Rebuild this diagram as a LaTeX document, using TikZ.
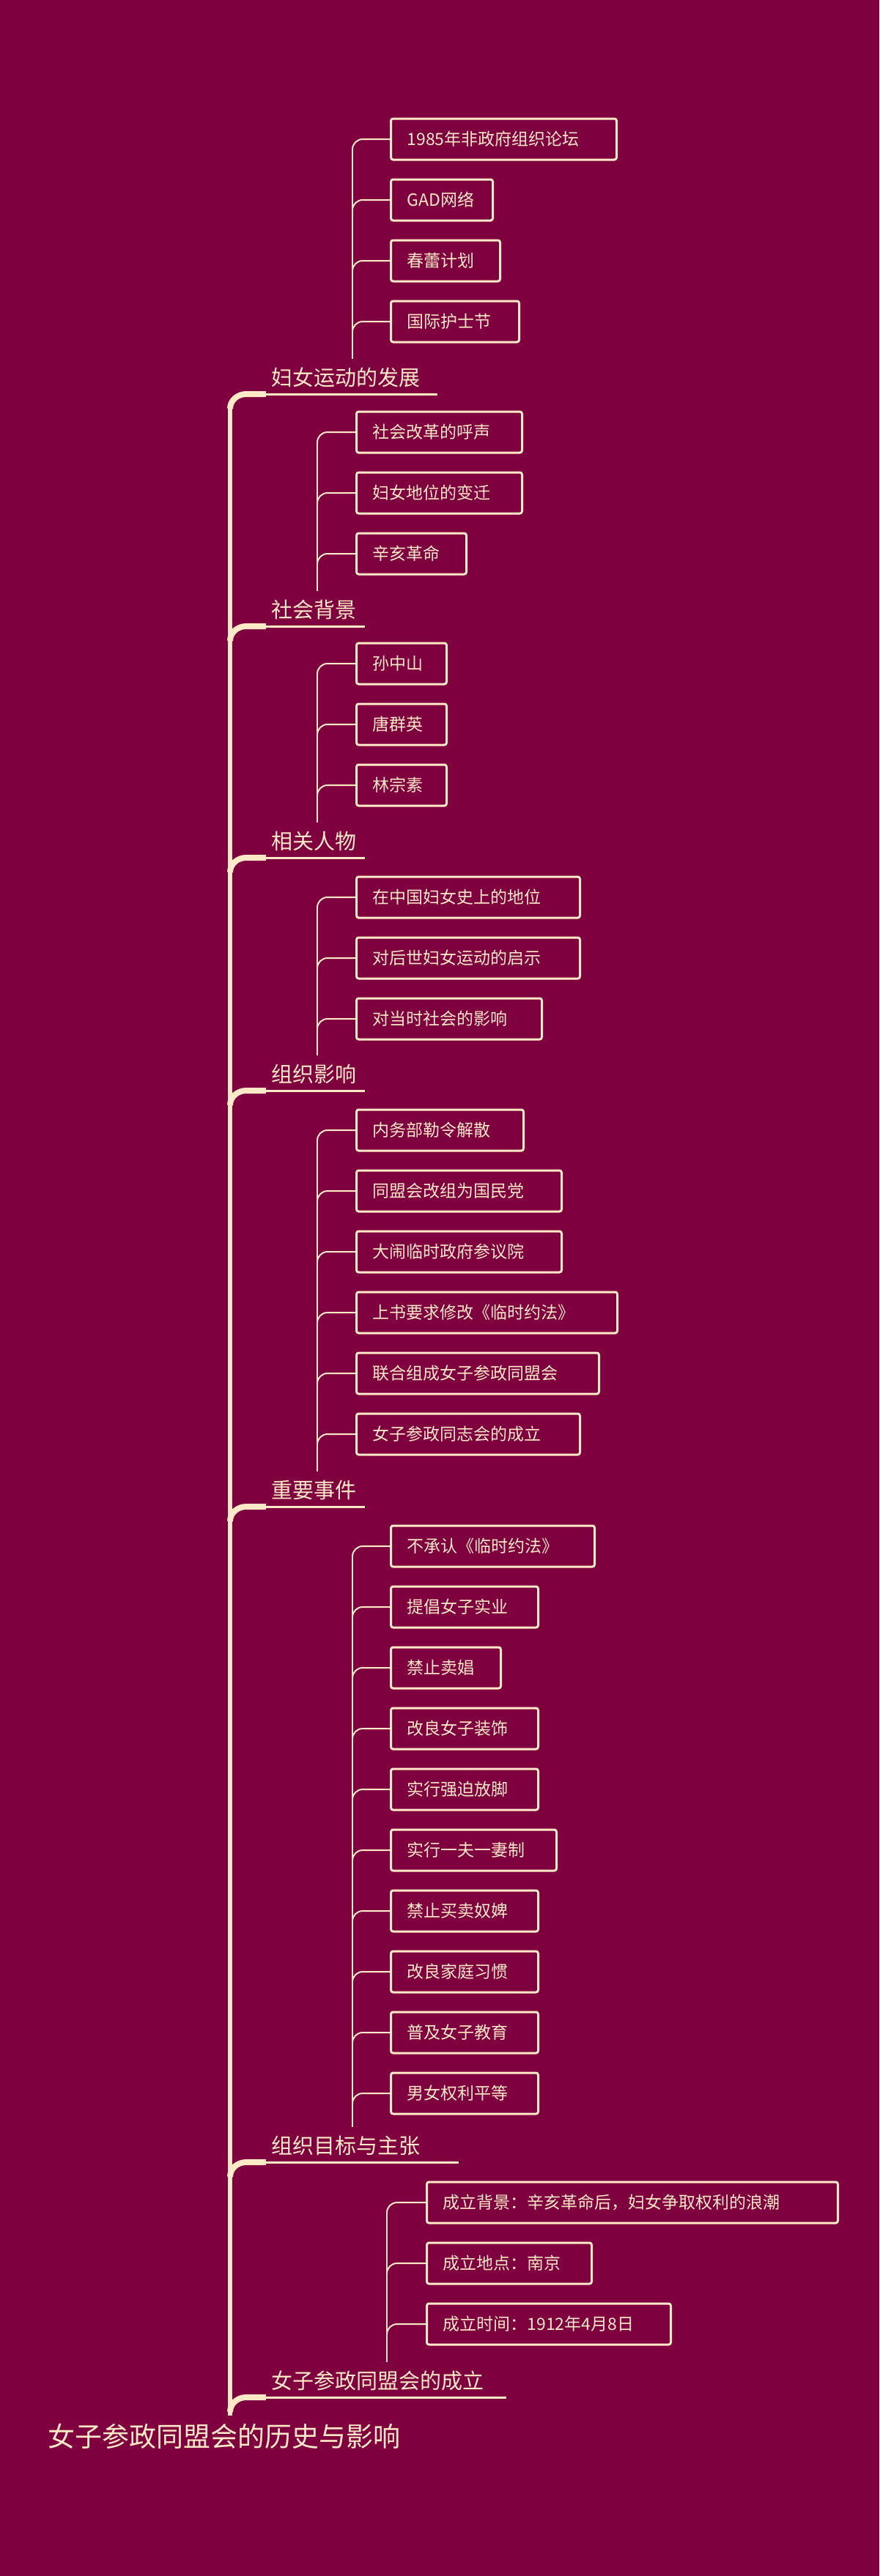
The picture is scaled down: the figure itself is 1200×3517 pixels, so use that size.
\documentclass[tikz,border=0pt]{standalone}
\usepackage{fontspec}
\setmainfont{Noto Sans CJK SC}
\definecolor{bg}{HTML}{7F003E}
\definecolor{cr}{HTML}{FFE9C6}
\tikzset{
 boxnode/.style={draw=cr,line width=3pt,rounded corners=3pt,text=cr,anchor=west,minimum height=56pt,inner xsep=22pt,align=left,font=\fontsize{23}{26}\selectfont},
 subline/.style={draw=cr,line width=2pt},
 trunkline/.style={draw=cr,line width=6pt},
 stubline/.style={draw=cr,line width=8pt},
 uline/.style={draw=cr,line width=3pt},
 lbl/.style={text=cr,anchor=base west,inner sep=0pt,font=\fontsize{29}{32}\selectfont}
}
\newcommand\grp[8]{%
 \foreach \t/\w [count=\i] in {#8}{
  \node[boxnode,text width=\w pt] (#1-\i) at ({#3},{#4+83*(\i-1)}) {\t};
  \draw[subline] ({#2},{#4+83*(\i-1)+14}) to[out=90,in=180] ({#2+14},{#4+83*(\i-1)}) -- (#1-\i.west);
 }
 \draw[subline] ({#2},{#4+14}) -- ({#2},{#5-48});
 \node[lbl] (#1-l) at (370,{#5-12}) {#7};
 \coordinate (#1-s) at (363,#5);
 \coordinate (#1-e) at (#6,#5);
 \draw[stubline] (314,{#5+20}) to[out=90,in=180] (336,#5) -- (#1-s);
 \draw[uline] (#1-s) -- (#1-e);
}
\begin{document}
\begin{tikzpicture}[x=1pt,y=-1pt]
\fill[bg] (0,0) rectangle (1200,3517);
\useasboundingbox (0,0) rectangle (1200,3517);
\draw[trunkline] (314,555) -- (314,3298);
\grp{a}{481}{532}{190}{538}{597}{妇女运动的发展}{1985年非政府组织论坛/264,GAD网络/95,春蕾计划/105,国际护士节/131}
\grp{b}{433}{485}{590}{855}{498}{社会背景}{社会改革的呼声/182,妇女地位的变迁/182,辛亥革命/106}
\grp{c}{433}{485}{906}{1171}{498}{相关人物}{孙中山/79,唐群英/79,林宗素/79}
\grp{d}{433}{485}{1225}{1489}{498}{组织影响}{在中国妇女史上的地位/261,对后世妇女运动的启示/261,对当时社会的影响/209}
\grp{e}{433}{485}{1543}{2057}{498}{重要事件}{内务部勒令解散/184,同盟会改组为国民党/236,大闹临时政府参议院/236,上书要求修改《临时约法》/312,联合组成女子参政同盟会/287,女子参政同志会的成立/261}
\grp{f}{481}{532}{2111}{2952}{626}{组织目标与主张}{不承认《临时约法》/234,提倡女子实业/157,禁止卖娼/106,改良女子装饰/157,实行强迫放脚/157,实行一夫一妻制/182,禁止买卖奴婢/157,改良家庭习惯/157,普及女子教育/157,男女权利平等/157}
\grp{g}{528}{581}{3007}{3273}{691}{女子参政同盟会的成立}{成立背景：辛亥革命后，妇女争取权利的浪潮/517,成立地点：南京/181,成立时间：1912年4月8日/289}
\node[text=cr,anchor=base west,inner sep=0pt,font=\fontsize{37}{40}\selectfont] (root) at (65,3340) {女子参政同盟会的历史与影响};
\end{tikzpicture}
\end{document}
